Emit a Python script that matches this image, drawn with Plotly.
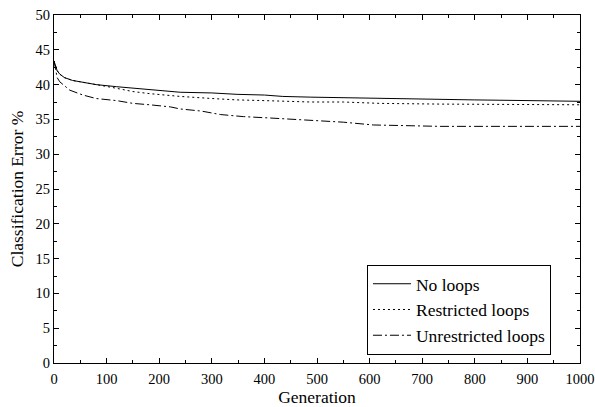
import plotly.graph_objects as go

# ---- data ----
gen_no = [0, 3, 6, 11, 20, 35, 55, 80, 119, 150, 182, 221, 240, 300, 348, 400, 435, 487, 550, 620, 734, 800, 905, 1000]
err_no = [43.4, 42.6, 42.0, 41.5, 41.0, 40.6, 40.3, 40.0, 39.7, 39.5, 39.3, 39.0, 38.9, 38.8, 38.6, 38.5, 38.3, 38.2, 38.1, 38.0, 37.9, 37.8, 37.7, 37.6]

gen_rl = [0, 3, 6, 11, 20, 35, 55, 80, 110, 150, 182, 221, 240, 300, 348, 400, 487, 550, 620, 734, 800, 900, 1000]
err_rl = [43.4, 42.6, 42.0, 41.5, 41.0, 40.6, 40.3, 40.0, 39.6, 39.0, 38.7, 38.4, 38.3, 38.0, 37.8, 37.7, 37.5, 37.5, 37.3, 37.2, 37.2, 37.1, 37.1]

gen_ul = [0, 3, 6, 11, 17, 30, 55, 80, 119, 150, 182, 221, 240, 280, 316, 360, 411, 487, 550, 607, 650, 734, 800, 900, 1000]
err_ul = [43.4, 42.0, 41.0, 40.4, 40.0, 39.2, 38.5, 38.0, 37.7, 37.3, 37.1, 36.8, 36.5, 36.2, 35.7, 35.4, 35.2, 34.9, 34.6, 34.2, 34.1, 34.0, 34.0, 34.0, 34.0]

series_names = ["No loops", "Restricted loops", "Unrestricted loops"]
x_ticks = list(range(0, 1001, 100))
y_ticks = list(range(0, 51, 5))

FONT = "Liberation Serif, Times New Roman, DejaVu Serif, serif"

fig = go.Figure()
fig.add_trace(go.Scatter(x=gen_no, y=err_no, mode="lines", name=series_names[0],
                         line=dict(color="black", width=1, dash="solid")))
fig.add_trace(go.Scatter(x=gen_rl, y=err_rl, mode="lines", name=series_names[1],
                         line=dict(color="black", width=1, dash="2px,3px")))
fig.add_trace(go.Scatter(x=gen_ul, y=err_ul, mode="lines", name=series_names[2],
                         line=dict(color="black", width=1, dash="9px,3px,2px,3px")))

axis_common = dict(
    showgrid=False, zeroline=False, showline=True, linecolor="black", linewidth=1,
    mirror="allticks", ticks="inside", ticklen=5, tickwidth=1, tickcolor="black",
    tickfont=dict(family=FONT, size=14.5, color="black"), automargin=False,
)

fig.update_xaxes(range=[0, 1000], tickvals=x_ticks, ticktext=[str(v) for v in x_ticks],
                 minor=dict(dtick=50, ticks="inside", ticklen=3, tickcolor="black"),
                 ticklabelstandoff=3,
                 title=dict(text="Generation", font=dict(family=FONT, size=17.5, color="black"), standoff=8),
                 **axis_common)
fig.update_yaxes(range=[0, 50], tickvals=y_ticks, ticktext=[str(v) for v in y_ticks],
                 minor=dict(dtick=2.5, ticks="inside", ticklen=3, tickcolor="black"),
                 title=dict(text="Classification Error %", font=dict(family=FONT, size=17.5, color="black"), standoff=7),
                 **axis_common)

fig.update_layout(
    width=595, height=407,
    margin=dict(l=54, r=15, t=15, b=44),
    paper_bgcolor="white", plot_bgcolor="white",
    font=dict(family=FONT, size=16, color="black"),
    showlegend=True,
    legend=dict(x=0.595, y=0.282, xanchor="left", yanchor="top",
                bgcolor="white", bordercolor="black", borderwidth=1,
                font=dict(family=FONT, size=17.5, color="black"),
                tracegroupgap=0, itemwidth=38),
)

fig.write_html("out.html", config={"displayModeBar": False},
               post_script="document.body.style.margin='0';")
